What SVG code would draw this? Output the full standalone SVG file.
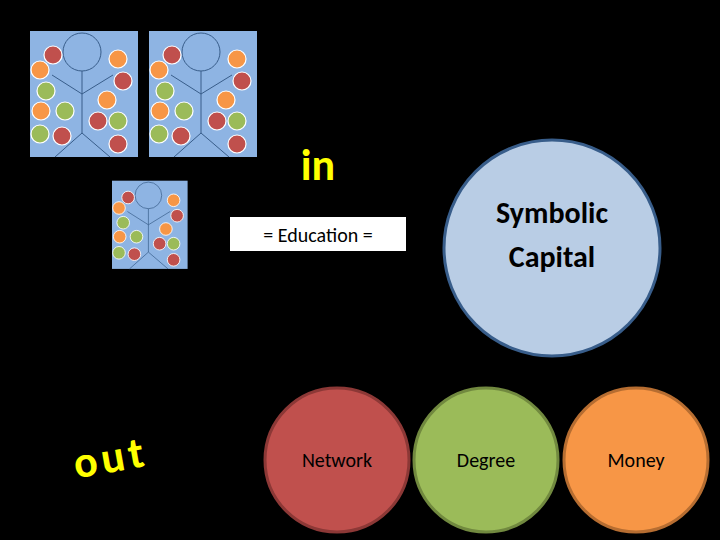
<svg xmlns="http://www.w3.org/2000/svg" xmlns:xlink="http://www.w3.org/1999/xlink" width="720" height="540" viewBox="0 0 720 540">
<style>
.bg{fill:#8eb4e3}
.ln{stroke:#385d8a;stroke-width:1;fill:none}
.r{fill:#c0504d;stroke:#fff;stroke-width:1.2}
.o{fill:#f79646;stroke:#fff;stroke-width:1.2}
.g{fill:#9bbb59;stroke:#fff;stroke-width:1.2}
.t{font-family:Calibri,"Liberation Sans",sans-serif}
</style>
<defs>
<g id="panel">
<rect class="bg" x="30" y="31" width="108" height="126"/>
<circle class="ln" cx="82" cy="52" r="19"/>
<path class="ln" d="M82 71V133M82 94L52 75M82 94L113 75M82 133L55 157M82 133L110 157"/>
<circle class="r" cx="53" cy="55" r="9"/>
<circle class="o" cx="118" cy="59" r="9"/>
<circle class="o" cx="40" cy="70" r="9"/>
<circle class="r" cx="123" cy="81" r="9"/>
<circle class="g" cx="46" cy="91" r="9"/>
<circle class="o" cx="107" cy="100" r="9"/>
<circle class="o" cx="41" cy="111" r="9"/>
<circle class="g" cx="65" cy="111" r="9"/>
<circle class="r" cx="98" cy="121" r="9"/>
<circle class="g" cx="118" cy="121" r="9"/>
<circle class="g" cx="40" cy="134" r="9"/>
<circle class="r" cx="62" cy="136" r="9"/>
<circle class="r" cx="118" cy="144" r="9"/>
</g>
</defs>
<rect width="720" height="540" fill="#000"/>
<g id="figure1"><use xlink:href="#panel"/></g>
<g id="figure2"><use xlink:href="#panel" transform="translate(119,0)"/></g>
<g id="figure3"><use xlink:href="#panel" transform="translate(91,159) scale(0.7)"/></g>
<text class="t" x="318" y="180" font-size="44" font-weight="bold" fill="#ffff00" text-anchor="middle">in</text>
<text class="t" x="113" y="472" font-size="44" font-weight="bold" fill="#ffff00" text-anchor="middle" letter-spacing="4" transform="rotate(-10 113 472)">out</text>
<g id="education">
<rect x="230" y="217" width="176" height="34" fill="#fff"/>
<text class="t" x="318" y="242" font-size="20" fill="#000" text-anchor="middle">= Education =</text>
</g>
<g id="symbolic">
<circle cx="552" cy="248" r="108" fill="#b9cde5" stroke="#385d8a" stroke-width="3"/>
<text class="t" x="552" y="223" font-size="30" font-weight="bold" fill="#000" text-anchor="middle">Symbolic</text>
<text class="t" x="552" y="267" font-size="30" font-weight="bold" fill="#000" text-anchor="middle">Capital</text>
</g>
<g id="network">
<circle cx="337" cy="460" r="72" fill="#c0504d" stroke="#8c3836" stroke-width="3"/>
<text class="t" x="337" y="467" font-size="20" fill="#000" text-anchor="middle">Network</text>
</g>
<g id="degree">
<circle cx="486" cy="460" r="72" fill="#9bbb59" stroke="#71893f" stroke-width="3"/>
<text class="t" x="486" y="467" font-size="20" fill="#000" text-anchor="middle">Degree</text>
</g>
<g id="money">
<circle cx="636" cy="460" r="72" fill="#f79646" stroke="#b66d31" stroke-width="3"/>
<text class="t" x="636" y="467" font-size="20" fill="#000" text-anchor="middle">Money</text>
</g>
</svg>
